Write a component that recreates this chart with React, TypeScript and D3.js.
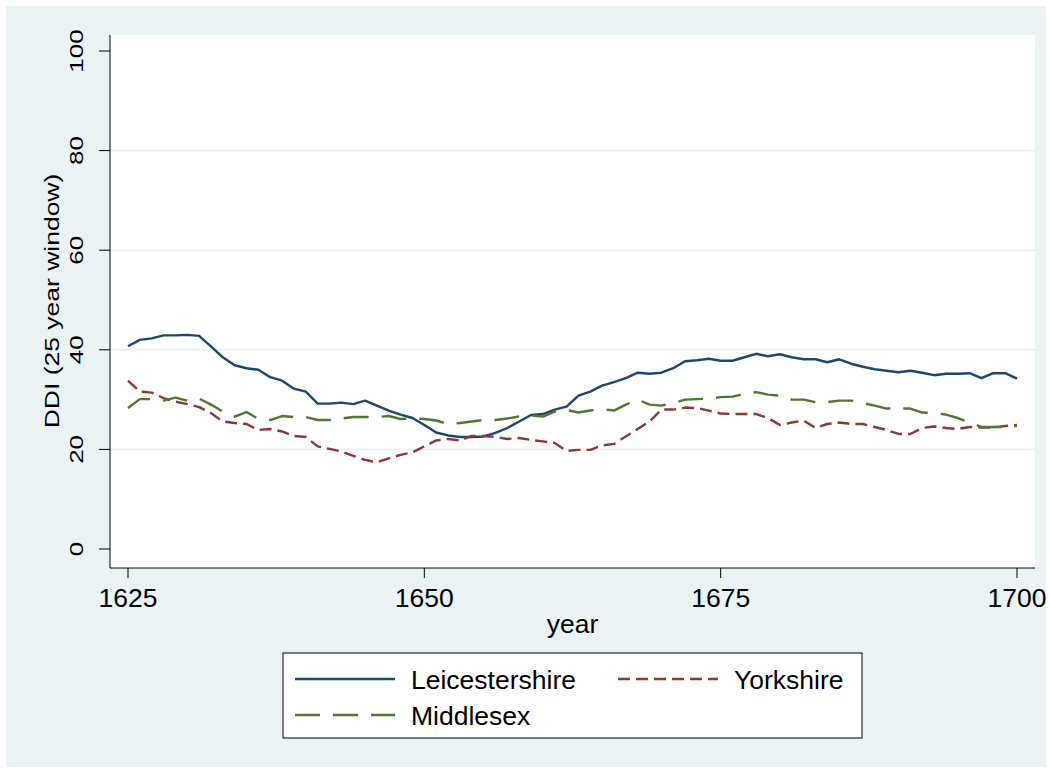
import React from "react";
import * as d3 from "d3";

const years: number[] = d3.range(1625, 1701);

const leicestershire: number[] = [
  40.7, 42.0, 42.3, 42.9, 42.9, 43.0, 42.8, 40.7, 38.5, 36.9,
  36.3, 36.0, 34.5, 33.8, 32.2, 31.6, 29.2, 29.2, 29.4, 29.1,
  29.8, 28.8, 27.8, 27.0, 26.3, 24.9, 23.4, 22.8, 22.5, 22.5,
  22.6, 23.3, 24.3, 25.6, 26.9, 27.1, 28.0, 28.6, 30.8, 31.6,
  32.8, 33.5, 34.3, 35.4, 35.2, 35.4, 36.3, 37.7, 37.9, 38.2,
  37.8, 37.8, 38.5, 39.2, 38.7, 39.1, 38.5, 38.1, 38.1, 37.5,
  38.1, 37.2, 36.6, 36.1, 35.8, 35.5, 35.8, 35.4, 34.9, 35.2,
  35.2, 35.3, 34.3, 35.3, 35.3, 34.2,
];

const yorkshire: number[] = [
  33.8, 31.6, 31.4, 30.3, 29.6, 29.1, 28.5, 27.3, 25.6, 25.3,
  25.1, 23.9, 24.1, 23.6, 22.7, 22.5, 20.6, 20.1, 19.6, 18.7,
  17.9, 17.4, 18.2, 18.9, 19.4, 20.6, 21.8, 22.1, 21.8, 22.7,
  22.7, 22.5, 22.1, 22.3, 21.9, 21.6, 21.3, 19.7, 19.9, 19.9,
  20.8, 21.1, 22.6, 24.1, 25.6, 28.0, 28.0, 28.4, 28.3, 27.8,
  27.2, 27.1, 27.1, 27.1, 26.3, 24.9, 25.4, 25.8, 24.3, 25.1,
  25.4, 25.1, 25.1, 24.5, 23.9, 23.1, 23.1, 24.3, 24.6, 24.3,
  24.1, 24.5, 24.4, 24.4, 24.7, 24.9,
];

const middlesex: number[] = [
  28.3, 30.1, 30.1, 29.8, 30.4, 29.8, 30.2, 29.0, 27.6, 26.6,
  27.5, 26.1, 25.9, 26.7, 26.5, 26.5, 25.9, 25.9, 26.2, 26.5,
  26.5, 26.5, 26.7, 26.1, 26.2, 26.1, 25.8, 25.1, 25.3, 25.6,
  25.9, 25.9, 26.2, 26.6, 26.8, 26.6, 27.6, 27.9, 27.4, 27.8,
  28.1, 27.8, 29.0, 30.0, 29.0, 28.8, 29.3, 30.0, 30.1, 30.2,
  30.5, 30.6, 31.2, 31.5, 31.0, 30.8, 30.0, 30.0, 29.5, 29.5,
  29.8, 29.8, 29.3, 28.8, 28.2, 28.2, 28.2, 27.4, 27.3, 27.0,
  26.3, 25.4, 24.5, 24.5, 24.5, 24.7,
];

const xTicks: number[] = [1625, 1650, 1675, 1700];
const yTicks: number[] = [0, 20, 40, 60, 80, 100];
const gridTicks: number[] = [20, 40, 60, 80];

const seriesNames: string[] = ["Leicestershire", "Yorkshire", "Middlesex"];
const seriesColors: string[] = ["#1a476f", "#90353b", "#55752f"];
const seriesDash: string[] = ["", "12,6", "25,13"];

export default function App() {
  const W = 1050;
  const H = 772;
  const plotL = 110;
  const plotR = 1035;
  const plotT = 35;
  const plotB = 568;

  const x = d3.scaleLinear().domain([1625, 1700]).range([128, 1017]);
  const y = d3.scaleLinear().domain([0, 100]).range([549, 51]);

  const allSeries = [leicestershire, yorkshire, middlesex];
  const line = d3
    .line<number>()
    .x((_, i) => x(years[i]))
    .y((d) => y(d));

  const font = "'Liberation Sans', Arial, sans-serif";

  return (
    <svg
      width={W}
      height={H}
      style={{ position: "absolute", left: 0, top: 0 }}
      fontFamily={font}
    >
      <rect x={0} y={0} width={W} height={H} fill="#ffffff" />
      <rect x={6} y={6} width={1040} height={761} fill="#eaf2f3" />
      <rect x={plotL} y={plotT} width={plotR - plotL} height={plotB - plotT} fill="#ffffff" />
      {gridTicks.map((t) => (
        <line
          key={"g" + t}
          x1={plotL}
          x2={plotR}
          y1={y(t)}
          y2={y(t)}
          stroke="#eaf2f3"
          strokeWidth={2}
        />
      ))}
      {/* axes */}
      <line x1={plotL} x2={plotL} y1={plotT} y2={plotB} stroke="#000" strokeWidth={1} />
      <line x1={plotL} x2={plotR} y1={plotB} y2={plotB} stroke="#000" strokeWidth={1} />
      {yTicks.map((t) => (
        <g key={"y" + t}>
          <line x1={plotL - 11} x2={plotL} y1={y(t)} y2={y(t)} stroke="#000" />
          <text
            transform={`translate(${83},${y(t)}) rotate(-90) scale(1,0.72)`}
            textAnchor="middle"
            fontSize={26}
            fill="#000"
          >
            {t}
          </text>
        </g>
      ))}
      {xTicks.map((t) => (
        <g key={"x" + t}>
          <line x1={x(t)} x2={x(t)} y1={plotB} y2={plotB + 10} stroke="#000" />
          <text x={x(t)} y={607} textAnchor="middle" fontSize={26.5} fill="#000">
            {t}
          </text>
        </g>
      ))}
      <text x={(plotL + plotR) / 2} y={633} textAnchor="middle" fontSize={26.5} fill="#000">
        year
      </text>
      <text
        transform={`translate(${59},${301}) rotate(-90) scale(1,0.75)`}
        textAnchor="middle"
        fontSize={26.5}
        fill="#000"
      >
        DDI (25 year window)
      </text>
      {allSeries.map((s, i) => (
        <path
          key={seriesNames[i]}
          d={line(s) || ""}
          fill="none"
          stroke={seriesColors[i]}
          strokeWidth={2.4}
          strokeDasharray={seriesDash[i]}
          strokeLinejoin="round"
        />
      ))}
      {/* legend */}
      <rect x={283} y={653} width={579} height={85} fill="#ffffff" stroke="#000" strokeWidth={1} />
      {[
        { i: 0, lx: 295, ly: 679 },
        { i: 1, lx: 618, ly: 679 },
        { i: 2, lx: 295, ly: 715 },
      ].map(({ i, lx, ly }) => (
        <g key={"leg" + i}>
          <line
            x1={lx}
            x2={lx + 100}
            y1={ly}
            y2={ly}
            stroke={seriesColors[i]}
            strokeWidth={2.4}
            strokeDasharray={seriesDash[i]}
          />
          <text x={lx + 116} y={ly + 9.5} fontSize={26.5} fill="#000">
            {seriesNames[i]}
          </text>
        </g>
      ))}
    </svg>
  );
}
